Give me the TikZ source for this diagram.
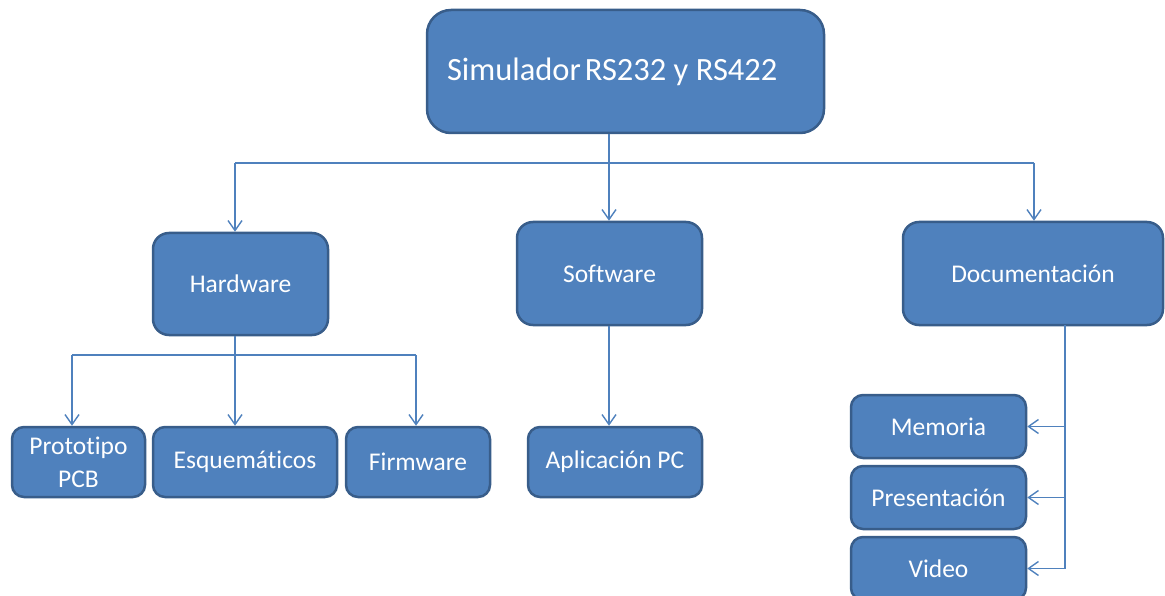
\documentclass[tikz,border=0pt]{standalone}
\usepackage{fontspec}
\setmainfont{Carlito}[Ligatures=NoCommon]
\usetikzlibrary{arrows.meta}
\definecolor{boxfill}{HTML}{4F81BD}
\definecolor{boxedge}{HTML}{385D8A}
\definecolor{wire}{HTML}{4F81BD}
\tikzset{
  box/.style={draw=boxedge, line width=2.5pt, fill=boxfill, text=white,
    rounded corners=12pt, inner sep=0pt, align=center,
    font=\fontsize{25.5}{31}\selectfont},
  link/.style={draw=wire, line width=1.4pt},
  tip/.style={link, -{Straight Barb[length=10pt,width=14pt,line width=1.4pt]}},
}
\begin{document}
\begin{tikzpicture}[x=1pt, y=-1pt]
\useasboundingbox (0,0) rectangle (1165,596);
\clip (0,0) rectangle (1165,596);

% top level: title set flush left inside the box
\node[box, rounded corners=24pt, minimum width=397pt, minimum height=123pt,
  font=\fontsize{32.5}{38}\selectfont] (root) at (625.5,71.5)
  {\makebox[357pt][l]{\raisebox{-3pt}{Simulador\hspace{0.12em}RS232 y RS422}}};

% second level
\node[box, rounded corners=16pt, minimum width=175pt, minimum height=102pt] (hw) at (240.5,284) {Hardware};
\node[box, rounded corners=16pt, minimum width=185pt, minimum height=103pt] (sw) at (609.5,273.5) {Software};
\node[box, rounded corners=16pt, minimum width=260pt, minimum height=103pt] (doc) at (1033,273.5) {Documentación};

% hardware parts
\node[box, minimum width=133pt, minimum height=70pt, font=\fontsize{25.5}{33}\selectfont] (proto) at (78.5,462) {Prototipo\\PCB};
\node[box, minimum width=184pt, minimum height=70pt] (esq) at (245,462) {Esquemáticos};
\node[box, minimum width=144pt, minimum height=70pt] (firm) at (418,462) {Firmware};

% software part
\node[box, minimum width=174pt, minimum height=70pt] (app) at (615,462) {Aplicación PC};

% documentation parts
\node[box, minimum width=175pt, minimum height=63pt] (mem) at (938.5,426.5) {Memoria};
\node[box, minimum width=175pt, minimum height=63pt] (pres) at (938.5,497.5) {Presentación};
\node[box, minimum width=175pt, minimum height=63pt] (vid) at (938.5,568.5) {Video};

% junction points
\coordinate (bus1) at (609,163);
\coordinate (hwin) at (235,163);
\coordinate (docin) at (1034,163);
\coordinate (bus2) at (235,355);
\coordinate (protoin) at (72,355);
\coordinate (firmin) at (416,355);
\coordinate (docbus) at (1065,325);
\coordinate (docend) at (1065,568);

% root to second level
\draw[tip] (bus1 |- root.south) -- (bus1 |- sw.north);
\draw[link] (hwin) -- (docin);
\draw[tip] (hwin) -- (hwin |- hw.north);
\draw[tip] (docin) -- (docin |- doc.north);

% hardware branch
\draw[link] (bus2 |- hw.south) -- (bus2);
\draw[link] (protoin) -- (firmin);
\draw[tip] (protoin) -- (protoin |- proto.north);
\draw[tip] (bus2) -- (bus2 |- esq.north);
\draw[tip] (firmin) -- (firmin |- firm.north);

% software branch
\draw[tip] (bus1 |- sw.south) -- (bus1 |- app.north);

% documentation branch
\draw[link] (docbus) -- (docend |- vid.east);
\draw[tip] (docbus |- mem.east) -- (mem.east);
\draw[tip] (docbus |- pres.east) -- (pres.east);
\draw[tip] (docbus |- vid.east) -- (vid.east);
\end{tikzpicture}
\end{document}
